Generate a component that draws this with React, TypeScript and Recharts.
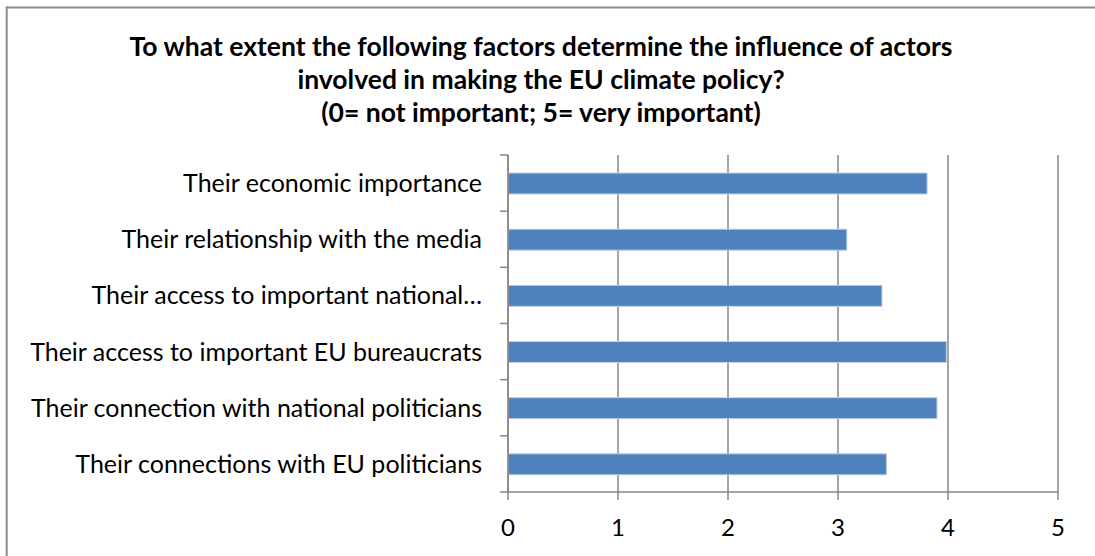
import React from "react";
import { BarChart, Bar, XAxis, YAxis, CartesianGrid } from "recharts";

const categories = [
  "Their economic importance",
  "Their relationship with the media",
  "Their access to important national…",
  "Their access to important EU bureaucrats",
  "Their connection with national politicians",
  "Their connections with EU politicians",
];
const scores = [3.81, 3.08, 3.4, 3.985, 3.9, 3.44];
const xTicks = [0, 1, 2, 3, 4, 5];
const titleLines = [
  "To what extent the following factors determine the influence of actors",
  "involved in making the EU climate policy?",
  "(0= not important; 5= very important)",
];

const data = categories.map((name, i) => ({ name, value: scores[i] }));

const W = 1095;
const H = 556;
const AXIS_X = 508;
const PLOT_TOP = 155;
const PLOT_BOTTOM = 492;
const BAND = (PLOT_BOTTOM - PLOT_TOP) / categories.length;
const GRAY = "#878787";
const FONT = "Lato, 'Noto Sans', sans-serif";

const YTick = (props: any) => {
  const { y, payload, index } = props;
  const last = index === categories.length - 1;
  return (
    <g>
      <text
        x={AXIS_X - 26}
        y={y + 9}
        textAnchor="end"
        fontSize={25}
        fontFamily={FONT}
        fill="#000"
      >
        {payload.value}
      </text>
      <line x1={AXIS_X - 8} x2={AXIS_X} y1={y - BAND / 2} y2={y - BAND / 2} stroke={GRAY} strokeWidth={1.5} />
      {last && (
        <line x1={AXIS_X - 8} x2={AXIS_X} y1={y + BAND / 2} y2={y + BAND / 2} stroke={GRAY} strokeWidth={1.5} />
      )}
    </g>
  );
};

export default function App() {
  return (
    <div style={{ position: "absolute", left: 0, top: 0, width: W, height: H, background: "#fff", overflow: "hidden" }}>
      <BarChart
        layout="vertical"
        width={W}
        height={H}
        data={data}
        margin={{ top: PLOT_TOP, right: W - 1058, bottom: 34, left: 0 }}
      >
        <CartesianGrid horizontal={false} vertical={true} stroke={GRAY} strokeWidth={1.5} />
        <XAxis
          type="number"
          domain={[0, 5]}
          ticks={xTicks}
          interval={0}
          height={30}
          tickSize={8}
          tickMargin={19}
          axisLine={{ stroke: GRAY, strokeWidth: 1.5 }}
          tickLine={{ stroke: GRAY, strokeWidth: 1.5 }}
          tick={{ fill: "#000", fontSize: 24, fontFamily: FONT }}
        />
        <YAxis
          type="category"
          dataKey="name"
          width={AXIS_X}
          interval={0}
          tickLine={false}
          axisLine={{ stroke: GRAY, strokeWidth: 1.5 }}
          tick={<YTick />}
        />
        <Bar
          dataKey="value"
          fill="#4F81BD"
          stroke="#bfd0e7"
          strokeWidth={1}
          barSize={21}
          isAnimationActive={false}
        />
      </BarChart>
      <svg width={W} height={H} style={{ position: "absolute", left: 0, top: 0, pointerEvents: "none" }}>
        <line x1={6.7} x2={6.7} y1={6.5} y2={H} stroke="#8c8c8c" strokeWidth={2} />
        <line x1={6} x2={W} y1={7.5} y2={7.5} stroke="#8c8c8c" strokeWidth={2} />
        {titleLines.map((t, i) => (
          <text
            key={i}
            x={541}
            y={56 + i * 33}
            textAnchor="middle"
            fontSize={26.5}
            fontWeight="bold"
            fontFamily={FONT}
            fill="#000"
          >
            {t}
          </text>
        ))}
      </svg>
    </div>
  );
}
